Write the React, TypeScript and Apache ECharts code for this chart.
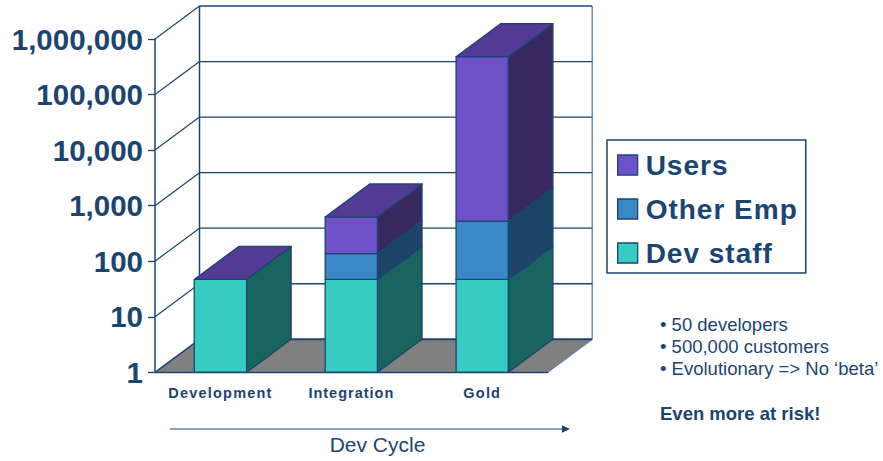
import React, { useEffect, useRef } from "react";
import * as echarts from "echarts";

const categories = ["Development", "Integration", "Gold"];
const devStaff = [47, 47, 47];
const otherEmp = [0, 90, 480];
const users = [0, 490, 480000];
const yTicks = [1, 10, 100, 1000, 10000, 100000, 1000000];
const bulletLines = ["• 50 developers", "• 500,000 customers", "• Evolutionary => No ‘beta’"];
const closingLine = "Even more at risk!";
const axisTitle = "Dev Cycle";

const INK = "#1b4570";
const FONT = "'Liberation Sans', Arial, sans-serif";
const DEPTH_X = 44.5;
const DEPTH_Y = -33;
const BAR_RATIO = 0.4;

const cumulative = (rows: number[][], upto: number) =>
  categories.map((_, i) => rows.slice(0, upto + 1).reduce((s, r) => s + r[i], 0));

const stacks = [devStaff, otherEmp, users];

const makeStackRender = (front: string, side: string, withCap: boolean) => (params: any, api: any) => {
  const cat = api.value(0);
  const low = api.value(1);
  const high = api.value(2);
  const [cx, y0] = api.coord([cat, low]);
  const [, y1] = api.coord([cat, high]);
  const w = api.size([1, 0])[0] * BAR_RATIO;
  const xl = cx - w / 2;
  const xr = cx + w / 2;
  const edge = { stroke: INK, lineWidth: 1.3, lineJoin: "round" };
  const children: any[] = [];
  if (high > low) {
    children.push({
      type: "polygon",
      shape: { points: [[xl, y0], [xr, y0], [xr, y1], [xl, y1]] },
      style: { fill: front, ...edge },
    });
    children.push({
      type: "polygon",
      shape: { points: [[xr, y0], [xr + DEPTH_X, y0 + DEPTH_Y], [xr + DEPTH_X, y1 + DEPTH_Y], [xr, y1]] },
      style: { fill: side, ...edge },
    });
  }
  if (withCap) {
    children.push({
      type: "polygon",
      shape: { points: [[xl, y1], [xr, y1], [xr + DEPTH_X, y1 + DEPTH_Y], [xl + DEPTH_X, y1 + DEPTH_Y]] },
      style: { fill: "#533a94", ...edge },
    });
  }
  return { type: "group", children };
};

const renderWalls = (params: any, api: any) => {
  const cs = params.coordSys;
  const y = api.coord([0, api.value(1)])[1];
  const left = cs.x;
  const right = cs.x + cs.width;
  const bottom = cs.y + cs.height;
  const line = (x1: number, y1: number, x2: number, y2: number, w = 1.2, c = INK) => ({
    type: "line",
    shape: { x1, y1, x2, y2 },
    style: { stroke: c, lineWidth: w },
  });
  const children: any[] = [];
  if (params.dataIndex === 0) {
    children.push({
      type: "polygon",
      shape: {
        points: [
          [left, bottom],
          [right, bottom],
          [right + DEPTH_X, bottom + DEPTH_Y],
          [left + DEPTH_X, bottom + DEPTH_Y],
        ],
      },
      style: { fill: "#808080" },
    });
    children.push(line(left + DEPTH_X, cs.y + DEPTH_Y, left + DEPTH_X, bottom + DEPTH_Y, 1.5));
    children.push(line(right + DEPTH_X, cs.y + DEPTH_Y, right + DEPTH_X, bottom + DEPTH_Y, 1.3, "#5f7f9f"));
    children.push(line(right, bottom, right + DEPTH_X, bottom + DEPTH_Y, 1.1, "#5f7f9f"));
    children.push(line(left + DEPTH_X, bottom + DEPTH_Y, right + DEPTH_X, bottom + DEPTH_Y, 2));
    children.push(line(left, bottom, left + DEPTH_X, bottom + DEPTH_Y, 1.5));
  } else {
    children.push(line(left + DEPTH_X, y + DEPTH_Y, right + DEPTH_X, y + DEPTH_Y, 1.3));
    children.push(line(left, y, left + DEPTH_X, y + DEPTH_Y, 1.2));
  }
  return { type: "group", children };
};

const stackData = (idx: number) => {
  const upper = cumulative(stacks, idx);
  const lower = idx === 0 ? categories.map(() => 1) : cumulative(stacks, idx - 1);
  return categories.map((_, i) => [i, lower[i], upper[i]]);
};

export default function App() {
  const ref = useRef<HTMLDivElement>(null);
  useEffect(() => {
    document.body.style.margin = "0";
    const chart = echarts.init(ref.current!, null, { renderer: "svg" });
    const noted = (text: string, y: number, bold = false) => ({
      type: "text",
      z: 10,
      style: {
        x: 660,
        y,
        text,
        fill: INK,
        fontFamily: FONT,
        fontSize: 18.5,
        fontWeight: bold ? "bold" : "normal",
        textVerticalAlign: "middle",
      },
    });
    chart.setOption({
      animation: false,
      backgroundColor: "#ffffff",
      grid: { left: 155, top: 39, width: 392.7, height: 333.3, containLabel: false },
      xAxis: {
        type: "category",
        data: categories,
        z: 3,
        axisLine: { lineStyle: { color: INK, width: 1.3 } },
        axisTick: { length: 6, lineStyle: { color: INK, width: 1.3 } },
        axisLabel: { color: INK, fontFamily: FONT, fontWeight: "bold", fontSize: 14.5, margin: 13 },
      },
      yAxis: {
        type: "log",
        logBase: 10,
        min: 1,
        max: 1000000,
        z: 3,
        splitLine: { show: false },
        axisLine: { show: true, lineStyle: { color: INK, width: 1.5 } },
        axisTick: { show: true, length: 7, lineStyle: { color: INK, width: 1.3 } },
        axisLabel: {
          color: INK,
          fontFamily: FONT,
          fontWeight: "bold",
          fontSize: 29.5,
          margin: 12,
          formatter: (v: number) => Math.round(v).toLocaleString("en-US"),
        },
      },
      legend: {
        left: 607,
        top: 140,
        orient: "vertical",
        selectedMode: false,
        data: ["Users", "Other Emp", "Dev staff"],
        padding: [11, 17, 6, 10],
        itemGap: 16,
        itemWidth: 20,
        itemHeight: 20,
        icon: "rect",
        borderColor: INK,
        borderWidth: 1.5,
        backgroundColor: "#ffffff",
        itemStyle: { borderColor: INK, borderWidth: 1.3 },
        textStyle: {
          color: INK,
          fontFamily: FONT,
          fontWeight: "bold",
          fontSize: 28,
          lineHeight: 20,
          padding: [0, 0, 0, 3],
        },
      },
      graphic: [
        {
          type: "line",
          z: 10,
          shape: { x1: 170, y1: 429, x2: 563, y2: 429 },
          style: { stroke: INK, lineWidth: 1.2 },
        },
        {
          type: "polygon",
          z: 10,
          shape: { points: [[562, 425.2], [570, 429], [562, 432.8]] },
          style: { fill: INK },
        },
        {
          type: "text",
          z: 10,
          style: {
            x: 377.5,
            y: 444.5,
            text: axisTitle,
            fill: INK,
            fontFamily: FONT,
            fontSize: 21,
            textAlign: "center",
            textVerticalAlign: "middle",
          },
        },
        noted(bulletLines[0], 324.5),
        noted(bulletLines[1], 346.5),
        noted(bulletLines[2], 368.5),
        noted(closingLine, 413.5, true),
      ],
      series: [
        {
          type: "custom",
          silent: true,
          z: 1,
          renderItem: renderWalls,
          encode: { x: 0, y: 1 },
          data: yTicks.map((v) => [0, v]),
        },
        {
          type: "custom",
          name: "Dev staff",
          silent: true,
          z: 2,
          itemStyle: { color: "#36ccc2" },
          renderItem: makeStackRender("#36ccc2", "#1a645f", false),
          encode: { x: 0, y: [1, 2] },
          data: stackData(0),
        },
        {
          type: "custom",
          name: "Other Emp",
          silent: true,
          z: 2,
          itemStyle: { color: "#3a88c6" },
          renderItem: makeStackRender("#3a88c6", "#1d4467", false),
          encode: { x: 0, y: [1, 2] },
          data: stackData(1),
        },
        {
          type: "custom",
          name: "Users",
          silent: true,
          z: 2,
          itemStyle: { color: "#6e50c8" },
          renderItem: makeStackRender("#6e50c8", "#372860", true),
          encode: { x: 0, y: [1, 2] },
          data: stackData(2),
        },
      ],
    });
    ref.current!.querySelectorAll("text").forEach((t) => {
      const s = t.textContent || "";
      if (categories.includes(s)) t.style.letterSpacing = s === "Integration" ? "1px" : "1.2px";
      if (["Users", "Other Emp", "Dev staff"].includes(s)) t.style.letterSpacing = "1px";
    });
    return () => chart.dispose();
  }, []);
  return <div ref={ref} style={{ position: "absolute", left: 0, top: 0, width: 883, height: 461 }} />;
}
